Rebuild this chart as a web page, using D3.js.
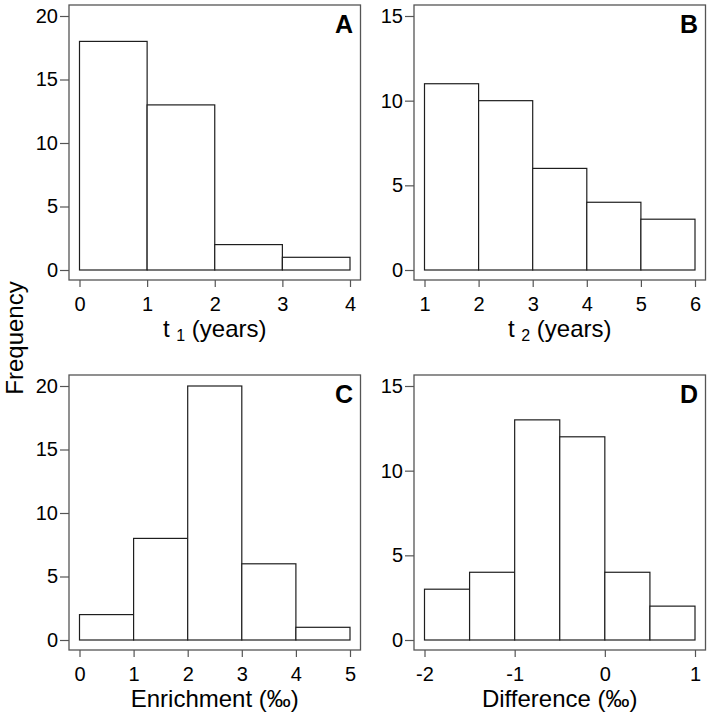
<!DOCTYPE html>
<html>
<head>
<meta charset="utf-8">
<script src="https://cdn.jsdelivr.net/npm/d3@7"></script>
<style>
  html, body { margin: 0; padding: 0; background: #fff; }
  svg { display: block; font-family: "Liberation Sans", Arial, sans-serif; }
</style>
</head>
<body>
<svg id="chart" width="712" height="720"></svg>
<script>
// ---- data ----
const panelLetters = ["A", "B", "C", "D"];
const binEdgesA = [0, 1, 2, 3, 4];
const countsA = [18, 13, 2, 1];
const binEdgesB = [1, 2, 3, 4, 5, 6];
const countsB = [11, 10, 6, 4, 3];
const binEdgesC = [0, 1, 2, 3, 4, 5];
const countsC = [2, 8, 20, 6, 1];
const binEdgesD = [-2, -1.5, -1, -0.5, 0, 0.5, 1];
const countsD = [3, 4, 13, 12, 4, 2];
const xTicksA = [0, 1, 2, 3, 4];
const xTicksB = [1, 2, 3, 4, 5, 6];
const xTicksC = [0, 1, 2, 3, 4, 5];
const xTicksD = [-2, -1, 0, 1];
const yTicksA = [0, 5, 10, 15, 20];
const yTicksB = [0, 5, 10, 15];
const yTicksC = [0, 5, 10, 15, 20];
const yTicksD = [0, 5, 10, 15];
const yMaxes = [20, 15, 20, 15];
const xTitles = [
  ["t", "1", "(years)"],
  ["t", "2", "(years)"],
  ["Enrichment (‰)", null, null],
  ["Difference (‰)", null, null]
];
const yTitle = "Frequency";

const panels = [
  { edges: binEdgesA, counts: countsA, xt: xTicksA, yt: yTicksA },
  { edges: binEdgesB, counts: countsB, xt: xTicksB, yt: yTicksB },
  { edges: binEdgesC, counts: countsC, xt: xTicksC, yt: yTicksC },
  { edges: binEdgesD, counts: countsD, xt: xTicksD, yt: yTicksD }
];

const svg = d3.select("#chart");
const frameW = 291.5, frameH = 275;
const origins = [[69, 5], [414, 5], [69, 375], [414, 375]];
const frameColor = "#555";
const barColor = "#1e1e1e";
const fmt = d => String(d);

panels.forEach((p, i) => {
  const [ox, oy] = origins[i];
  const g = svg.append("g").attr("transform", `translate(${ox},${oy})`);
  const x = d3.scaleLinear()
    .domain([p.edges[0], p.edges[p.edges.length - 1]])
    .range([10.5, frameW - 10.5]);
  const y = d3.scaleLinear().domain([0, yMaxes[i]]).range([frameH - 10, 11]);

  // bars
  const bins = p.counts.map((c, k) => ({ x0: p.edges[k], x1: p.edges[k + 1], c }));
  g.selectAll("rect.bar").data(bins).enter().append("rect")
    .attr("class", "bar")
    .attr("x", d => x(d.x0))
    .attr("y", d => y(d.c))
    .attr("width", d => x(d.x1) - x(d.x0))
    .attr("height", d => y(0) - y(d.c))
    .attr("fill", "#fff")
    .attr("stroke", barColor)
    .attr("stroke-width", 1.2);

  // frame
  g.append("rect")
    .attr("x", 0).attr("y", 0)
    .attr("width", frameW).attr("height", frameH)
    .attr("fill", "none")
    .attr("stroke", frameColor)
    .attr("stroke-width", 1.3);

  // y axis
  const ya = g.append("g").call(
    d3.axisLeft(y).tickValues(p.yt).tickSize(9).tickPadding(2).tickFormat(fmt)
  );
  ya.select(".domain").remove();
  ya.selectAll("line").attr("stroke", frameColor).attr("stroke-width", 1.2);
  ya.selectAll("text").attr("font-size", 20).attr("fill", "#000")
    .attr("font-family", "Liberation Sans, Arial, sans-serif");

  // x axis
  const xa = g.append("g").attr("transform", `translate(0,${frameH})`).call(
    d3.axisBottom(x).tickValues(p.xt).tickSize(7).tickPadding(9.5).tickFormat(fmt)
  );
  xa.select(".domain").remove();
  xa.selectAll("line").attr("stroke", frameColor).attr("stroke-width", 1.2);
  xa.selectAll("text").attr("font-size", 20).attr("fill", "#000")
    .attr("font-family", "Liberation Sans, Arial, sans-serif");

  // x title
  const tt = xTitles[i];
  const xt = g.append("text")
    .attr("x", (x.range()[0] + x.range()[1]) / 2)
    .attr("y", frameH + 57)
    .attr("text-anchor", "middle")
    .attr("font-size", 24)
    .attr("fill", "#000");
  if (tt[1] === null) {
    xt.text(tt[0]);
  } else {
    xt.append("tspan").text(tt[0] + " ");
    xt.append("tspan").attr("font-size", 16).attr("dy", 4).text(tt[1]);
    xt.append("tspan").attr("dy", -4).text(" " + tt[2]);
  }

  // panel letter
  g.append("text")
    .attr("x", frameW - 7.5)
    .attr("y", 28)
    .attr("text-anchor", "end")
    .attr("font-size", 25)
    .attr("font-weight", "bold")
    .attr("fill", "#000")
    .text(panelLetters[i]);
});

// shared y title
svg.append("text")
  .attr("transform", "translate(23,338) rotate(-90)")
  .attr("text-anchor", "middle")
  .attr("font-size", 24)
  .attr("fill", "#000")
  .text(yTitle);
</script>
</body>
</html>
